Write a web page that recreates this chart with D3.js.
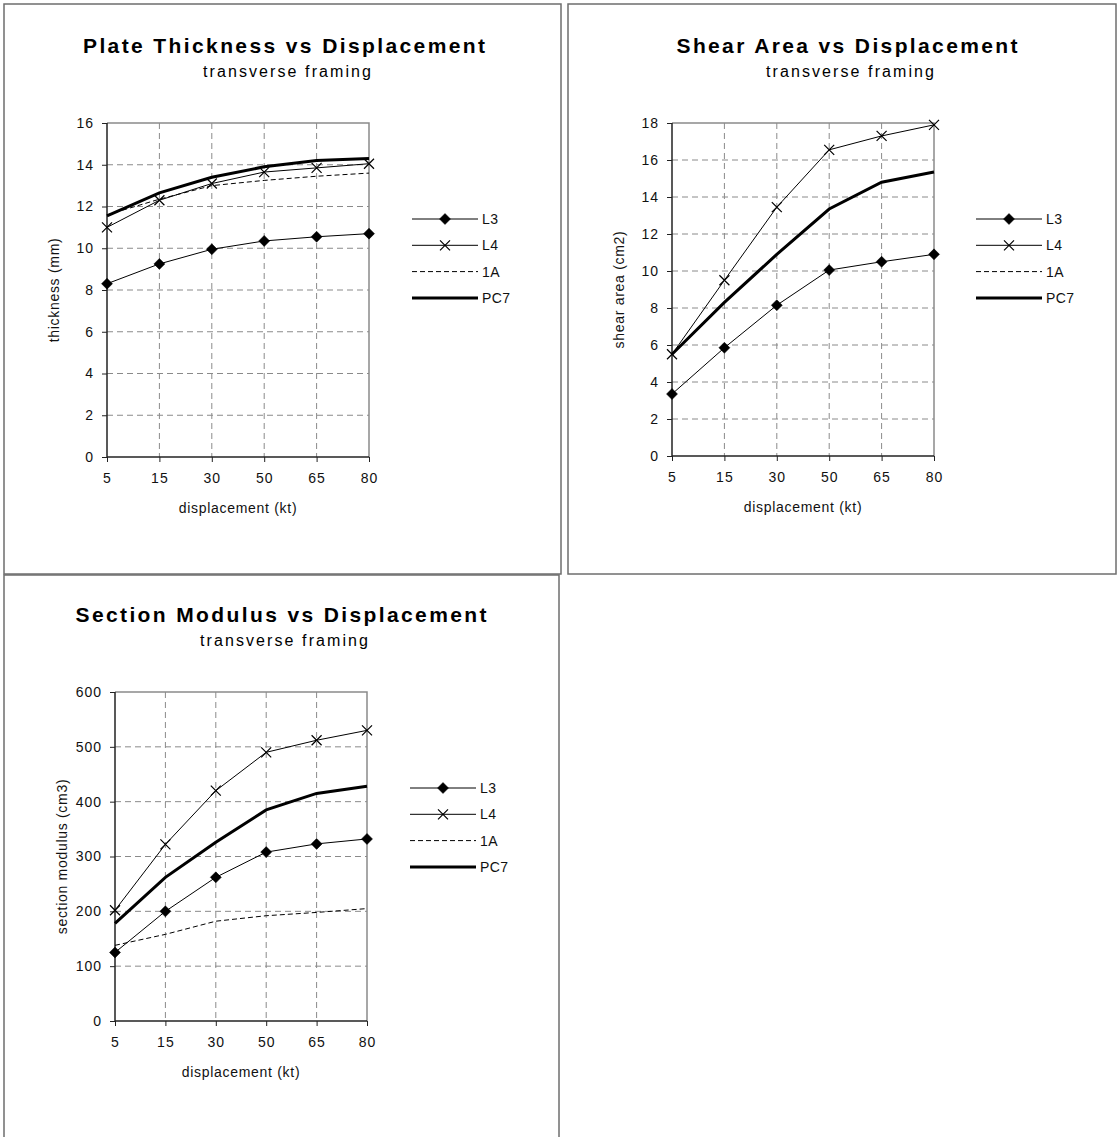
<!DOCTYPE html>
<html>
<head>
<meta charset="utf-8">
<script src="https://cdn.jsdelivr.net/npm/d3@7"></script>
<style>
  body { margin: 0; background: #fff; }
  svg { display: block; font-family: "Liberation Sans", Arial, sans-serif; }
  .axis-title { font-size: 14px; fill: #111; letter-spacing: 0.7px; }
  .legend-label { font-size: 14px; fill: #111; }
</style>
</head>
<body>
<div id="charts"></div>
<script>
// categories on the x axis (displacement, kt)
const categories = ["5", "15", "30", "50", "65", "80"];
const seriesNames = ["L3", "L4", "1A", "PC7"];

// plate thickness (mm)
const thicknessL3  = [8.3, 9.25, 9.95, 10.35, 10.55, 10.7];
const thicknessL4  = [11.0, 12.3, 13.1, 13.65, 13.85, 14.05];
const thickness1A  = [11.6, 12.35, 13.0, 13.25, 13.45, 13.6];
const thicknessPC7 = [11.55, 12.65, 13.4, 13.9, 14.2, 14.3];
const thicknessTicks = [0, 2, 4, 6, 8, 10, 12, 14, 16];

// shear area (cm2) - no visible 1A curve in this panel
const shearL3  = [3.35, 5.85, 8.15, 10.05, 10.5, 10.9];
const shearL4  = [5.5, 9.5, 13.45, 16.55, 17.3, 17.9];
const shear1A  = [];
const shearPC7 = [5.5, 8.3, 10.9, 13.35, 14.8, 15.35];
const shearTicks = [0, 2, 4, 6, 8, 10, 12, 14, 16, 18];

// section modulus (cm3)
const modulusL3  = [125, 200, 262, 308, 323, 332];
const modulusL4  = [202, 322, 420, 490, 512, 530];
const modulus1A  = [138, 158, 182, 192, 198, 205];
const modulusPC7 = [178, 262, 326, 385, 415, 428];
const modulusTicks = [0, 100, 200, 300, 400, 500, 600];

const W = 1118, H = 1137;

const svg = d3.select("#charts").append("svg")
    .attr("width", W)
    .attr("height", H);

// panel frames
const frames = [
  {x: 4, y: 4, w: 557, h: 570},
  {x: 568, y: 4, w: 548, h: 570},
  {x: 4, y: 575, w: 555, h: 570}
];
svg.selectAll("rect.frame")
    .data(frames)
    .enter().append("rect")
    .attr("class", "frame")
    .attr("x", d => d.x).attr("y", d => d.y)
    .attr("width", d => d.w).attr("height", d => d.h)
    .attr("fill", "none")
    .attr("stroke", "#6e6e6e")
    .attr("stroke-width", 1.5);

function diamond(r) { return "M0," + (-r) + "L" + r + ",0L0," + r + "L" + (-r) + ",0Z"; }
function cross(r) { return "M" + (-r) + "," + (-r) + "L" + r + "," + r + "M" + (-r) + "," + r + "L" + r + "," + (-r); }

const styles = {
  "L3":  {width: 1, dash: null, marker: "diamond"},
  "L4":  {width: 1, dash: null, marker: "cross"},
  "1A":  {width: 1, dash: "5,3", marker: null},
  "PC7": {width: 3, dash: null, marker: null}
};

function drawChart(cfg) {
  const g = svg.append("g");

  const x = d3.scalePoint()
      .domain(categories)
      .range([cfg.left, cfg.right]);

  const y = d3.scaleLinear()
      .domain([0, d3.max(cfg.ticks)])
      .range([cfg.bottom, cfg.top]);

  // titles
  g.append("text")
      .attr("x", cfg.titleX).attr("y", cfg.top - 70)
      .attr("text-anchor", "middle")
      .attr("textLength", cfg.titleWidth)
      .attr("lengthAdjust", "spacing")
      .style("font-size", "21px").style("font-weight", "bold")
      .text(cfg.title);
  g.append("text")
      .attr("x", cfg.titleX + 3).attr("y", cfg.top - 46)
      .attr("text-anchor", "middle")
      .attr("textLength", 168)
      .attr("lengthAdjust", "spacing")
      .style("font-size", "16px")
      .text("transverse framing");

  // horizontal grid
  g.selectAll("line.hgrid")
      .data(cfg.ticks.filter(t => t > 0 && t < d3.max(cfg.ticks)))
      .enter().append("line")
      .attr("x1", cfg.left).attr("x2", cfg.right)
      .attr("y1", d => y(d)).attr("y2", d => y(d))
      .attr("stroke", "#8a8a8a").attr("stroke-dasharray", "6,4");

  // vertical grid
  g.selectAll("line.vgrid")
      .data(categories.slice(1, -1))
      .enter().append("line")
      .attr("x1", d => x(d)).attr("x2", d => x(d))
      .attr("y1", cfg.top).attr("y2", cfg.bottom)
      .attr("stroke", "#8a8a8a").attr("stroke-dasharray", "6,4");

  // top and right frame of the plot area
  g.append("path")
      .attr("d", "M" + cfg.left + "," + cfg.top + "H" + cfg.right + "V" + cfg.bottom)
      .attr("fill", "none").attr("stroke", "#8a8a8a").attr("stroke-width", 1.5);

  // axes
  const yAxis = d3.axisLeft(y).tickValues(cfg.ticks).tickSize(5).tickPadding(8);
  const xAxis = d3.axisBottom(x).tickSize(5).tickPadding(11);

  const ya = g.append("g")
      .attr("transform", "translate(" + cfg.left + ",0)")
      .call(yAxis);
  const xa = g.append("g")
      .attr("transform", "translate(0," + cfg.bottom + ")")
      .call(xAxis);
  [ya, xa].forEach(a => {
    a.select(".domain").attr("stroke", "#222").attr("stroke-width", 1.5);
    a.selectAll(".tick line").attr("stroke", "#222");
    a.selectAll(".tick text")
        .style("font-size", "14px").style("font-family", "Liberation Sans, Arial, sans-serif")
        .attr("fill", "#111").style("letter-spacing", "1px");
  });
  // domain without outer ticks
  ya.select(".domain").attr("d", "M0," + cfg.top + "V" + cfg.bottom);
  xa.select(".domain").attr("d", "M" + cfg.left + ",0H" + cfg.right);

  // axis titles
  g.append("text")
      .attr("class", "axis-title")
      .attr("x", (cfg.left + cfg.right) / 2).attr("y", cfg.bottom + 56)
      .attr("text-anchor", "middle")
      .text("displacement (kt)");
  g.append("text")
      .attr("class", "axis-title")
      .attr("transform", "translate(" + (cfg.left - 48) + "," + ((cfg.top + cfg.bottom) / 2) + ") rotate(-90)")
      .attr("text-anchor", "middle")
      .text(cfg.yTitle);

  const line = d3.line()
      .x((d, i) => x(categories[i]))
      .y(d => y(d));

  // series
  const order = ["1A", "L4", "L3", "PC7"];
  order.forEach(name => {
    const values = cfg.series[name];
    const st = styles[name];
    if (!values.length) return;
    g.append("path")
        .datum(values)
        .attr("d", line)
        .attr("fill", "none")
        .attr("stroke", "#000")
        .attr("stroke-width", st.width)
        .attr("stroke-dasharray", st.dash);
    if (st.marker) {
      g.selectAll("path.m" + name)
          .data(values)
          .enter().append("path")
          .attr("transform", (d, i) => "translate(" + x(categories[i]) + "," + y(d) + ")")
          .attr("d", st.marker === "diamond" ? diamond(5.5) : cross(5))
          .attr("fill", st.marker === "diamond" ? "#000" : "none")
          .attr("stroke", "#000")
          .attr("stroke-width", st.marker === "diamond" ? 0.5 : 1.2);
    }
  });

  // legend
  const legend = g.selectAll("g.legend")
      .data(seriesNames)
      .enter().append("g")
      .attr("transform", (d, i) => "translate(" + cfg.legendX + "," + (cfg.top + 96 + i * 26.3) + ")");
  legend.append("line")
      .attr("x1", 0).attr("x2", 66)
      .attr("stroke", "#000")
      .attr("stroke-width", d => styles[d].width)
      .attr("stroke-dasharray", d => styles[d].dash);
  legend.filter(d => styles[d].marker)
      .append("path")
      .attr("transform", "translate(33,0)")
      .attr("d", d => styles[d].marker === "diamond" ? diamond(5.5) : cross(5))
      .attr("fill", d => styles[d].marker === "diamond" ? "#000" : "none")
      .attr("stroke", "#000")
      .attr("stroke-width", d => styles[d].marker === "diamond" ? 0.5 : 1.2);
  legend.append("text")
      .attr("class", "legend-label")
      .attr("x", 70).attr("dy", "0.35em")
      .style("letter-spacing", "0.4px")
      .text(d => d);
}

drawChart({
  title: "Plate Thickness vs Displacement", titleX: 284, titleWidth: 402,
  yTitle: "thickness (mm)",
  left: 107, right: 369, top: 123, bottom: 457,
  ticks: thicknessTicks, legendX: 412,
  series: {"L3": thicknessL3, "L4": thicknessL4, "1A": thickness1A, "PC7": thicknessPC7}
});

drawChart({
  title: "Shear Area vs Displacement", titleX: 847, titleWidth: 341,
  yTitle: "shear area (cm2)",
  left: 672, right: 934, top: 123, bottom: 456,
  ticks: shearTicks, legendX: 976,
  series: {"L3": shearL3, "L4": shearL4, "1A": shear1A, "PC7": shearPC7}
});

drawChart({
  title: "Section Modulus vs Displacement", titleX: 281, titleWidth: 411,
  yTitle: "section modulus (cm3)",
  left: 115, right: 367, top: 692, bottom: 1021,
  ticks: modulusTicks, legendX: 410,
  series: {"L3": modulusL3, "L4": modulusL4, "1A": modulus1A, "PC7": modulusPC7}
});
</script>
</body>
</html>
